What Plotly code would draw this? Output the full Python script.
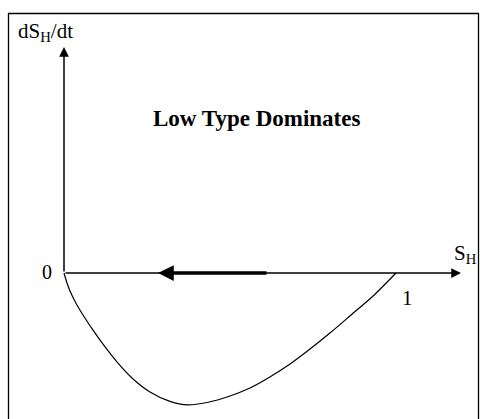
import plotly.graph_objects as go

# Curve data (S_H, dS_H/dt) (normalized units)
s_vals = [0.0, 0.009, 0.018, 0.039, 0.063, 0.087, 0.117, 0.160, 0.208, 0.259, 0.319,
          0.373, 0.431, 0.500, 0.560, 0.620, 0.681, 0.741, 0.801, 0.861, 0.931, 1.0]
ds_vals = [0.0, -0.077, -0.138, -0.246, -0.346, -0.438, -0.546, -0.685, -0.815, -0.915, -0.988,
           -1.015, -0.996, -0.946, -0.885, -0.800, -0.700, -0.585, -0.462, -0.331, -0.177, 0.0]

title_text = "Low Type Dominates"
y_label = "dS<sub>H</sub>/dt"
x_label = "S<sub>H</sub>"
tick_zero = "0"
tick_one = "1"

W, H = 480, 419
# pixel mapping: x_data = (px-64)/332 ; y_data = (273-py)/130
def px(v):
    return (v - 64) / 332

def py(v):
    return (273 - v) / 130

x0, x1 = px(0), px(W)
y_top, y_bot = py(0), py(H)

fig = go.Figure()
fig.add_trace(go.Scatter(x=s_vals, y=ds_vals, mode="lines",
                         line=dict(color="black", width=1.2, shape="spline", smoothing=0.7),
                         hoverinfo="skip", showlegend=False))

serif = "Liberation Serif, Times New Roman, serif"
ann = []
# y axis arrow
ann.append(dict(x=0, y=py(47), ax=0, ay=0, xref="x", yref="y", axref="x", ayref="y",
                showarrow=True, arrowhead=2, arrowsize=1.3, arrowwidth=1.5, arrowcolor="black", text=""))
# x axis arrow
ann.append(dict(x=px(461), y=0, ax=0, ay=0, xref="x", yref="y", axref="x", ayref="y",
                showarrow=True, arrowhead=2, arrowsize=1.3, arrowwidth=1.5, arrowcolor="black", text=""))
# leftward thick arrow
ann.append(dict(x=px(158), y=0, ax=px(268), ay=0, xref="x", yref="y", axref="x", ayref="y",
                showarrow=True, arrowhead=2, arrowsize=0.9, arrowwidth=3.5, arrowcolor="black", text=""))
# labels
ann.append(dict(x=px(16), y=py(32), xref="x", yref="y", text=y_label, showarrow=False,
                xanchor="left", yanchor="middle", font=dict(family=serif, size=21, color="black")))
ann.append(dict(x=px(479), y=py(254), xref="x", yref="y", text=x_label, showarrow=False,
                xanchor="right", yanchor="middle", font=dict(family=serif, size=21, color="black")))
ann.append(dict(x=px(47), y=py(272), xref="x", yref="y", text=tick_zero, showarrow=False,
                xanchor="center", yanchor="middle", font=dict(family=serif, size=20, color="black")))
ann.append(dict(x=px(407), y=py(298), xref="x", yref="y", text=tick_one, showarrow=False,
                xanchor="center", yanchor="middle", font=dict(family=serif, size=21, color="black")))
ann.append(dict(x=px(256), y=py(118), xref="x", yref="y", text="<b>" + title_text + "</b>",
                showarrow=False, xanchor="center", yanchor="middle",
                font=dict(family=serif, size=23, color="black")))

fig.update_layout(
    width=W, height=H,
    margin=dict(l=0, r=0, t=0, b=0),
    paper_bgcolor="white", plot_bgcolor="white",
    xaxis=dict(range=[x0, x1], visible=False, fixedrange=True),
    yaxis=dict(range=[y_bot, y_top], visible=False, fixedrange=True),
    annotations=ann,
    shapes=[dict(type="rect", xref="paper", yref="paper",
                 x0=8.5 / W, x1=478.5 / W, y0=-0.05, y1=1 - 13.5 / H,
                 line=dict(color="black", width=1.3), layer="below")],
    showlegend=False,
)

fig.write_html("out.html", config={"displayModeBar": False},
               post_script="document.body.style.margin='0';document.body.style.overflow='hidden';")
